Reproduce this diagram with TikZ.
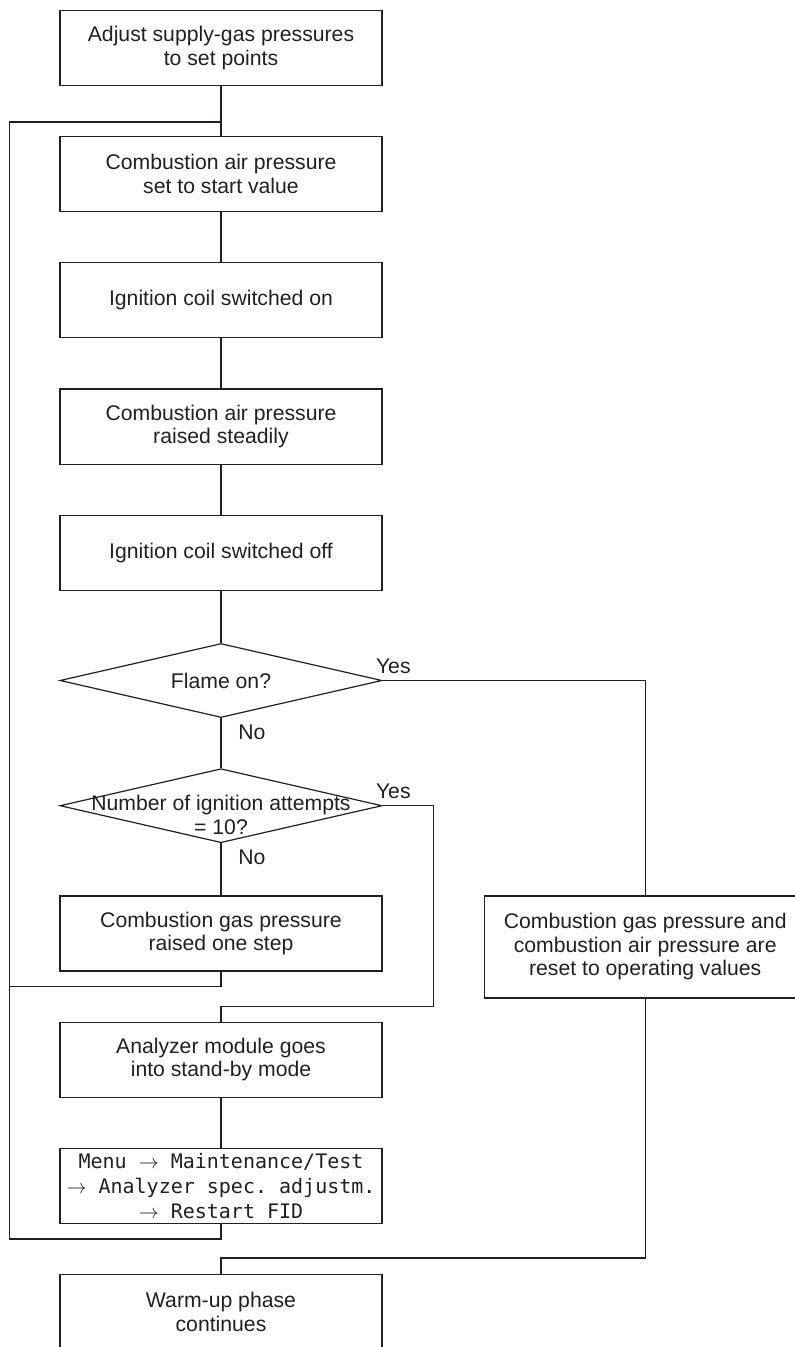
\documentclass[tikz,border=0pt]{standalone}
\usepackage{fontspec}
\setmainfont{Liberation Sans}
\setmonofont{DejaVu Sans Mono}
\usepackage{tikz}
\usetikzlibrary{positioning,shapes.geometric}
\definecolor{ink}{RGB}{35,31,32}

\begin{document}
\begin{tikzpicture}[
  x=0.5pt, y=-0.5pt,
  font=\fontsize{10.6pt}{11.8pt}\selectfont,
  every node/.style={text=ink},
  box/.style={draw=ink, line width=0.6pt, align=center, inner sep=2pt, minimum width=161pt, minimum height=37.5pt},
  decision/.style={draw=ink, line width=0.6pt, diamond, inner sep=0pt, minimum width=161pt, minimum height=37pt},
  lbl/.style={inner sep=0pt, anchor=base west},
  line/.style={draw=ink, line width=0.6pt},
  node distance=25pt
]
\useasboundingbox (0,0) rectangle (795,1347);
\clip (0,0) rectangle (795,1347);

\node[box] (adjust) at (221,48) {Adjust supply-gas pressures\\to set points};
\node[box, below=of adjust] (airstart) {Combustion air pressure\\set to start value};
\node[box, below=of airstart] (ignon) {Ignition coil switched on};
\node[box, below=of ignon] (airup) {Combustion air pressure\\raised steadily};
\node[box, below=of airup] (ignoff) {Ignition coil switched off};
\node[decision, below=26pt of ignoff, label={center:Flame on?}] (flame) {};
\node[decision, below=of flame, label={[align=center, yshift=-4.5pt]center:Number of ignition attempts\\= 10?}] (tries) {};
\node[box, below=26pt of tries] (raise) {Combustion gas pressure\\raised one step};
\node[box, below=of raise] (standby) {Analyzer module goes\\into stand-by mode};
\node[box, below=of standby, font=\fontsize{10pt}{12.5pt}\selectfont\ttfamily] (menu)
  {Menu $\rightarrow$ Maintenance/Test\\$\rightarrow$ Analyzer spec. adjustm.\\$\rightarrow$ Restart FID};
\node[box, below=of menu] (warmup) {Warm-up phase\\continues};
\node[box, minimum height=51pt, anchor=north west] (reset) at ([xshift=50.5pt]raise.north east)
  {Combustion gas pressure and\\combustion air pressure are\\reset to operating values};

% yes / no labels
\node[lbl] (yes1) at ([xshift=-3.5pt, yshift=3.5pt]flame.east) {Yes};
\node[lbl] (no1) at ([xshift=8.5pt, yshift=-10.5pt]flame.south) {No};
\node[lbl] (yes2) at ([xshift=-3.5pt, yshift=3.5pt]tries.east) {Yes};
\node[lbl] (no2) at ([xshift=8.5pt, yshift=-10.5pt]tries.south) {No};

\coordinate (join) at ([yshift=7pt]airstart.north);

\draw[line] (adjust) -- (airstart);
\draw[line] (airstart) -- (ignon);
\draw[line] (ignon) -- (airup);
\draw[line] (airup) -- (ignoff);
\draw[line] (ignoff) -- (flame);
\draw[line] (flame) -- (tries);
\draw[line] (tries) -- (raise);
\draw[line] (standby) -- (menu);

% loops back
\draw[line] (raise.south) -- ++(0,-7.5pt) -| ([xshift=-25pt]raise.west) |- (join);
\draw[line] (menu.south) -- ++(0,-7.5pt) -| ([xshift=-25pt]menu.west) |- (join);

% yes branches
\draw[line] (flame.east) -| (reset.north);
\draw[line] (tries.east) -- ++(25.5pt,0) |- ([yshift=7.5pt]standby.north) -- (standby.north);
\draw[line] (reset.south) |- ([yshift=8pt]warmup.north) -- (warmup.north);
\end{tikzpicture}
\end{document}
